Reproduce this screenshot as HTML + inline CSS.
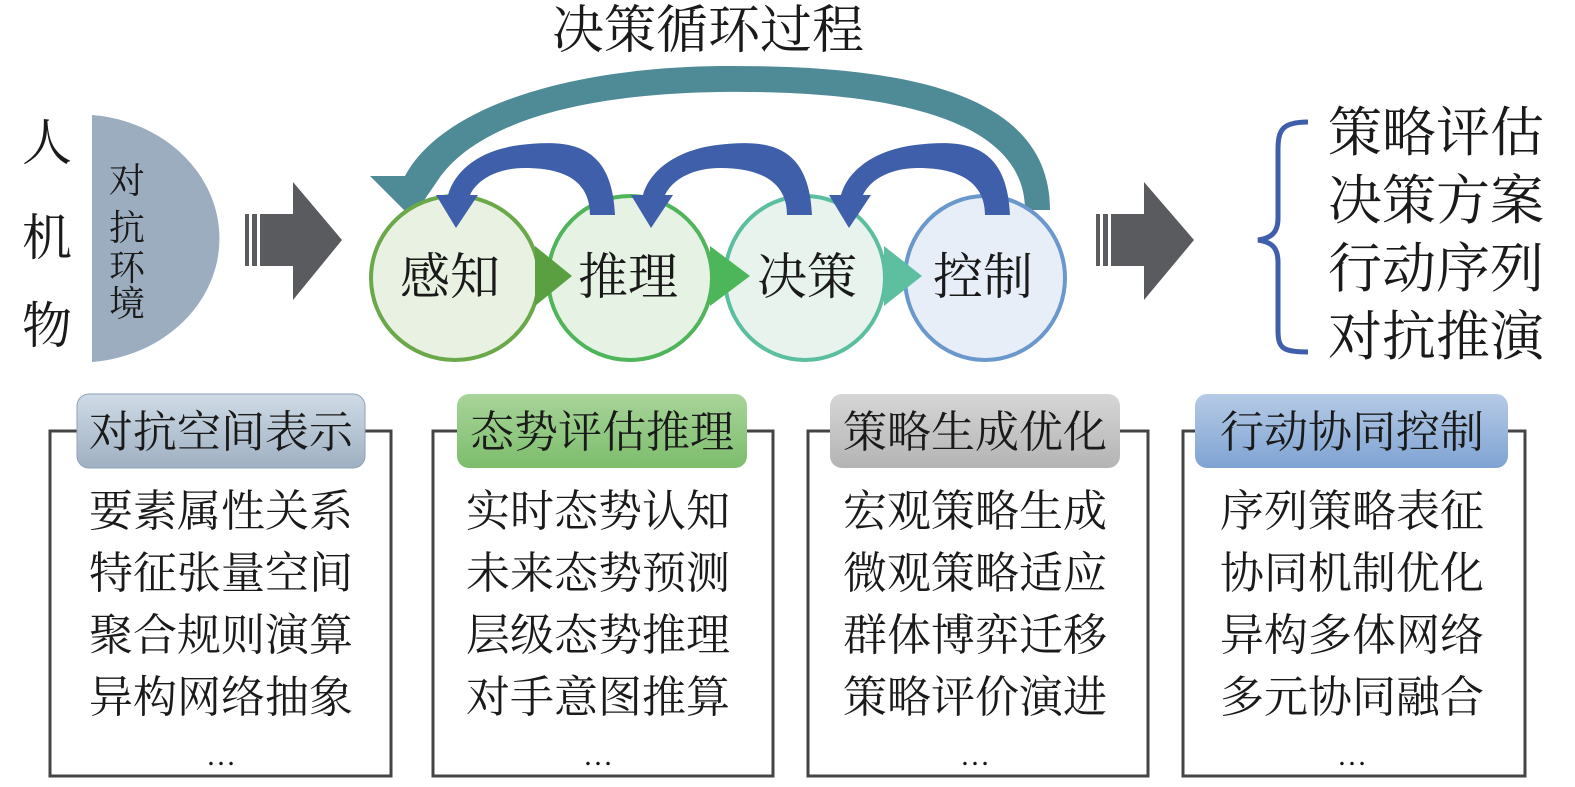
<!DOCTYPE html>
<html><head><meta charset="utf-8"><style>
html,body{margin:0;padding:0;background:#fff;}
svg{display:block;}
text{font-family:"Liberation Serif","Noto Serif CJK SC",serif;fill:#1a1a1a;}
</style></head><body>
<svg width="1575" height="787" viewBox="0 0 1575 787" xmlns="http://www.w3.org/2000/svg">
<defs>
<linearGradient id="gb" x1="0" y1="0" x2="0" y2="1"><stop offset="0" stop-color="#cfdbe6"/><stop offset="1" stop-color="#9fb0c2"/></linearGradient>
<linearGradient id="gg" x1="0" y1="0" x2="0" y2="1"><stop offset="0" stop-color="#a8d49a"/><stop offset="1" stop-color="#7dbd6c"/></linearGradient>
<linearGradient id="gy" x1="0" y1="0" x2="0" y2="1"><stop offset="0" stop-color="#d6d6d6"/><stop offset="1" stop-color="#b4b4b4"/></linearGradient>
<linearGradient id="gl" x1="0" y1="0" x2="0" y2="1"><stop offset="0" stop-color="#b6cbe6"/><stop offset="1" stop-color="#7fa3d3"/></linearGradient>
</defs>
<text x="708" y="48" font-size="52" text-anchor="middle">决策循环过程</text>
<!-- left -->
<text x="47" y="160" font-size="50" text-anchor="middle">人</text>
<text x="47" y="255" font-size="50" text-anchor="middle">机</text>
<text x="47" y="343" font-size="50" text-anchor="middle">物</text>
<path d="M92 115 A140 124 0 0 1 92 362 Z" fill="#9cadbf"/>
<text font-size="36" text-anchor="middle"><tspan x="127" y="193">对</tspan><tspan x="127" y="240">抗</tspan><tspan x="127" y="280">环</tspan><tspan x="127" y="316">境</tspan></text>
<!-- grey arrows -->
<g fill="#5a5b5f"><rect x="245" y="214" width="4" height="52"/><rect x="252" y="214" width="5" height="52"/><rect x="260" y="214" width="35" height="52"/><path d="M293 182 L342 240 L293 300 Z"/></g>
<g fill="#5a5b5f"><rect x="1096" y="214" width="4" height="52"/><rect x="1103" y="214" width="5" height="52"/><rect x="1111" y="214" width="35" height="52"/><path d="M1144 182 L1194 240 L1144 300 Z"/></g>
<!-- big arc -->
<path d="M1050 210 C1050 90 900 65 720 66 C560 68 440 110 405 176 L370 176 L412 218 L438 180 C475 125 575 94 720 92 C880 90 1025 115 1025 210 Z" fill="#4f8a97"/>
<!-- circles -->
<ellipse cx="985" cy="278" rx="80" ry="82" fill="#e8eef8" stroke="#6a97cc" stroke-width="4"/>
<ellipse cx="805" cy="278" rx="80" ry="82" fill="#e7f3ec" stroke="#5bbf9f" stroke-width="4"/>
<ellipse cx="630" cy="278" rx="82" ry="82" fill="#e6f2e4" stroke="#4fb45a" stroke-width="4"/>
<ellipse cx="455" cy="278" rx="84" ry="82" fill="#e8f1e2" stroke="#6aa84a" stroke-width="4"/>
<path d="M535 246 L572 276 L535 306 Z" fill="#5aa040"/>
<path d="M710 246 L750 276 L710 306 Z" fill="#4db65a"/>
<path d="M884 246 L922 276 L884 306 Z" fill="#5dbf9f"/>
<!-- small arcs -->
<g fill="#3f5fab">
<path d="M615 215 C612 140 565 140 520 145 C480 150 455 170 448 195 L436 195 L456 228 L478 195 L470 195 C478 178 500 168 525 168 C570 168 590 185 590 215 Z"/>
<path d="M812 215 C809 140 762 140 717 145 C677 150 650 170 643 195 L631 195 L651 228 L673 195 L665 195 C673 178 695 168 720 168 C765 168 787 185 787 215 Z"/>
<path d="M1010 215 C1007 140 960 140 915 145 C875 150 848 170 841 195 L829 195 L849 228 L871 195 L863 195 C871 178 893 168 918 168 C963 168 985 185 985 215 Z"/>
</g>
<text font-size="50" text-anchor="middle"><tspan x="450" y="294">感知</tspan><tspan x="628" y="294">推理</tspan><tspan x="807" y="294">决策</tspan><tspan x="983" y="294">控制</tspan></text>
<!-- brace -->
<path d="M1308 122 C1282 122 1278 130 1278 150 L1278 218 C1278 232 1272 238 1258 240 C1272 242 1278 248 1278 262 L1278 330 C1278 348 1282 352 1308 352" fill="none" stroke="#3f5fab" stroke-width="5"/>
<text font-size="54"><tspan x="1328" y="151">策略评估</tspan><tspan x="1328" y="219">决策方案</tspan><tspan x="1328" y="287">行动序列</tspan><tspan x="1328" y="355">对抗推演</tspan></text>
<!-- boxes -->
<g fill="none" stroke="#444" stroke-width="3">
<rect x="50" y="431" width="341" height="345"/>
<rect x="433" y="431" width="340" height="345"/>
<rect x="808" y="431" width="340" height="345"/>
<rect x="1183" y="431" width="342" height="345"/>
</g>
<rect x="77" y="394" width="288" height="74" rx="12" fill="url(#gb)" stroke="#8fa2b6"/>
<rect x="457" y="394" width="290" height="74" rx="12" fill="url(#gg)"/>
<rect x="830" y="394" width="290" height="74" rx="12" fill="url(#gy)"/>
<rect x="1195" y="394" width="313" height="74" rx="12" fill="url(#gl)"/>
<g font-size="44" text-anchor="middle">
<text x="221" y="447">对抗空间表示</text>
<text x="602" y="447">态势评估推理</text>
<text x="975" y="447">策略生成优化</text>
<text x="1352" y="447">行动协同控制</text>
<text x="221" y="526">要素属性关系</text><text x="221" y="588">特征张量空间</text><text x="221" y="650">聚合规则演算</text><text x="221" y="712">异构网络抽象</text><text x="221" y="765" font-size="30">…</text>
<text x="598" y="526">实时态势认知</text><text x="598" y="588">未来态势预测</text><text x="598" y="650">层级态势推理</text><text x="598" y="712">对手意图推算</text><text x="598" y="765" font-size="30">…</text>
<text x="975" y="526">宏观策略生成</text><text x="975" y="588">微观策略适应</text><text x="975" y="650">群体博弈迁移</text><text x="975" y="712">策略评价演进</text><text x="975" y="765" font-size="30">…</text>
<text x="1352" y="526">序列策略表征</text><text x="1352" y="588">协同机制优化</text><text x="1352" y="650">异构多体网络</text><text x="1352" y="712">多元协同融合</text><text x="1352" y="765" font-size="30">…</text>
</g>
</svg>
</body></html>
